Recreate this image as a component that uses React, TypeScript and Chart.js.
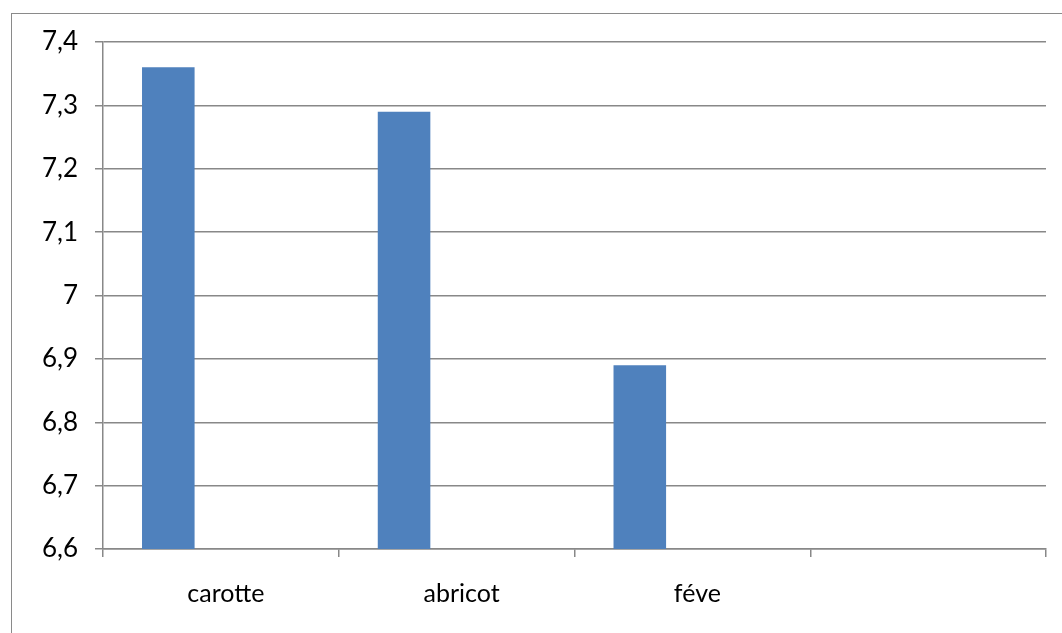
import React, { useEffect, useRef } from "react";
import { Chart, registerables } from "chart.js";

Chart.register(...registerables);

// Category names along the bottom axis (last slot left blank)
const categories: string[] = ["carotte", "abricot", "féve", ""];
// pH-like measurements for the first series
const seriesValues: (number | null)[] = [7.36, 7.29, 6.89, null];
// Two further series with no data, kept so the bars sit in the first slot of each group
const emptySeriesB: (number | null)[] = [null, null, null, null];
const emptySeriesC: (number | null)[] = [null, null, null, null];
// Value axis range and step
const yMin = 6.6;
const yMax = 7.4;
const yStep = 0.1;

const FONT = "Lato, 'Open Sans', sans-serif";
const GRID = "#888888";

export default function App() {
  const canvasRef = useRef<HTMLCanvasElement | null>(null);

  useEffect(() => {
    document.body.style.margin = "0";
    const canvas = canvasRef.current;
    if (!canvas) return;
    const chart = new Chart(canvas, {
      type: "bar",
      data: {
        labels: categories,
        datasets: [
          { label: "A", data: seriesValues, backgroundColor: "#4f81bd" },
          { label: "B", data: emptySeriesB, backgroundColor: "#c0504d" },
          { label: "C", data: emptySeriesC, backgroundColor: "#9bbb59" },
        ],
      },
      options: {
        animation: false,
        responsive: false,
        maintainAspectRatio: false,
        layout: { padding: { top: 42, right: 16, left: 0, bottom: 0 } },
        plugins: {
          legend: { display: false },
          tooltip: { enabled: false },
        },
        datasets: {
          bar: { categoryPercentage: 0.669, barPercentage: 1 },
        },
        scales: {
          x: {
            offset: true,
            grid: {
              offset: true,
              drawOnChartArea: false,
              drawTicks: true,
              tickLength: 8,
              color: GRID,
              lineWidth: 1.5,
            },
            border: { display: true, color: GRID, width: 1.5 },
            ticks: {
              padding: 22,
              labelOffset: 5,
              color: "#000",
              font: { family: FONT, size: 25 },
              maxRotation: 0,
              autoSkip: false,
            },
            afterFit: (scale: any) => {
              scale.height = 84;
            },
          },
          y: {
            min: yMin,
            max: yMax,
            grid: {
              drawTicks: true,
              tickLength: 8,
              color: GRID,
              lineWidth: 1.5,
            },
            border: { display: true, color: GRID, width: 1.5 },
            ticks: {
              stepSize: yStep,
              padding: 17,
              color: "#000",
              font: { family: FONT, size: 26 },
              callback: (v: any) => {
                const n = Math.round(Number(v) * 10) / 10;
                return String(n).replace(".", ",");
              },
            },
            afterFit: (scale: any) => {
              scale.width = 103;
            },
          },
        },
      },
    });
    return () => chart.destroy();
  }, []);

  return (
    <div style={{ position: "fixed", left: 0, top: 0, width: 1062, height: 633, background: "#fff", overflow: "hidden" }}>
      <div
        style={{
          position: "absolute",
          left: 11,
          top: 13,
          width: 1200,
          height: 800,
          border: "1.5px solid #8a8a8a",
          boxSizing: "border-box",
        }}
      />
      <canvas ref={canvasRef} width={1062} height={633} style={{ position: "absolute", left: 0, top: 0 }} />
    </div>
  );
}
